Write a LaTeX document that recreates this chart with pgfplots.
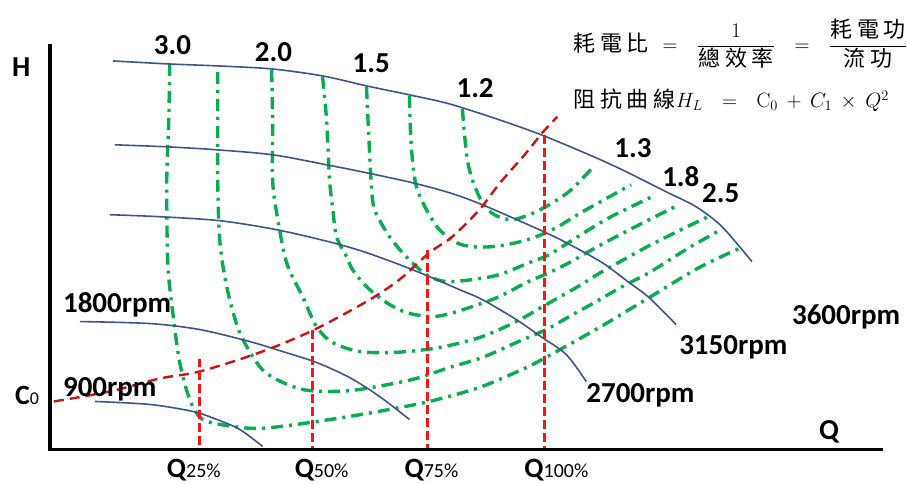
\documentclass[border=0pt]{standalone}
\usepackage{pgfplots}
\pgfplotsset{compat=1.18}
\usepackage[no-math]{fontspec}
\setmainfont{Carlito}
\newfontfamily\cjk[LetterSpace=22]{Noto Sans CJK TC}
\definecolor{pumpblue}{RGB}{62,84,140}
\definecolor{effgreen}{RGB}{10,172,80}
\definecolor{sysred}{RGB}{200,20,20}
\definecolor{qred}{RGB}{250,20,20}
\tikzset{
  eff/.style={effgreen, line width=3.4pt, smooth, tension=0.5,
    dash pattern=on 12pt off 6pt on 3pt off 6pt},
  pump/.style={pumpblue, line width=1.6pt, smooth, tension=0.5},
  qline/.style={qred, line width=3.4pt, dash pattern=on 9pt off 4pt},
  lbl/.style={font=\fontsize{29}{30}\selectfont\bfseries, anchor=base west, inner sep=0pt},
  txt/.style={anchor=base west, inner sep=0pt},
}
\newcommand\qlab[1]{{\fontsize{28}{30}\selectfont\bfseries Q}{\fontsize{20}{22}\selectfont #1\%}}
\newcommand\gap{\hspace{4pt}}

\begin{document}
\begin{tikzpicture}
\begin{axis}[
  width=907pt, height=485pt, scale only axis,
  xmin=0, xmax=907, ymin=0, ymax=485, y dir=reverse,
  axis line style={draw=none}, ticks=none, clip=false,
]
% iso lines of the power ratio, outer (3.0) to inner (1.2)
\addplot[eff] coordinates {(170,64)(169,120)(167,180)(168,263)(173,313)(180,363)(190,400)(203,420)(233,427)(260,429)(297,425)(350,417)(390,410)(430,402)(480,388)(525,369)(550,356)(600,328)(650,298)(700,268)(742,248)};
\addplot[eff] coordinates {(218,72)(218,130)(218,180)(220,240)(227,287)(240,333)(260,367)(277,380)(303,390)(330,392)(360,390)(413,380)(450,368)(483,358)(517,343)(547,330)(570,317)(597,302)(623,287)(650,273)(690,248)(722,230)};
\addplot[eff] coordinates {(272,70)(273,120)(273,180)(277,213)(287,263)(303,297)(317,327)(333,343)(360,352)(393,353)(427,350)(450,346)(483,337)(517,322)(547,305)(577,288)(603,272)(630,257)(650,246)(680,231)(711,216)};
\addplot[eff] coordinates {(323,77)(327,120)(330,180)(333,207)(337,237)(347,257)(353,270)(367,287)(387,303)(407,313)(430,317)(447,315)(473,307)(500,297)(527,283)(550,273)(570,263)(593,250)(617,237)(650,220)(678,206)};
\addplot[eff] coordinates {(367,87)(369,130)(373,200)(380,220)(390,237)(403,253)(417,267)(430,277)(447,282)(473,280)(500,275)(530,263)(550,255)(577,238)(610,218)(655,196)};
\addplot[eff] coordinates {(410,96)(411,130)(413,160)(417,187)(427,210)(440,230)(457,243)(473,247)(493,247)(517,243)(537,237)(557,228)(580,214)(605,200)(632,185)};
\addplot[eff] coordinates {(463,109)(465,133)(468,160)(473,180)(483,203)(495,215)(512,220)(530,215)(550,205)(572,190)(595,166)};
% pump curves
\addplot[pump] coordinates {(113,61)(168,64)(218,66)(272,69)(323,76)(367,86)(410,95)(450,104)(500,120)(542,135)(590,155)(623,170)(667,192)(697,207)(723,227)(753,262)};
\addplot[pump] coordinates {(115,145)(167,147)(217,150)(273,155)(327,165)(367,173)(413,183)(450,193)(483,205)(540,230)(567,243)(603,263)(630,283)(650,298)(677,325)};
\addplot[pump] coordinates {(110,215)(160,217)(220,221)(277,230)(333,243)(367,253)(400,265)(430,277)(460,290)(483,300)(517,320)(540,336)(567,355)(587,382)};
\addplot[pump] coordinates {(80,322)(150,324)(200,330)(250,342)(283,352)(317,363)(350,378)(380,397)(410,420)};
\addplot[pump] coordinates {(95,402)(150,405)(193,412)(217,420)(240,430)(263,447)};
% system resistance curve
\addplot[sysred, line width=2.4pt, smooth, tension=0.5, dash pattern=on 10pt off 6pt] coordinates {(54,402)(110,392)(160,379)(200,372)(260,353)(313,331)(367,302)(400,280)(430,253)(453,237)(480,210)(500,184)(527,153)(543,133)(558,117)};
% operating flows
\addplot[qline] coordinates {(200,359)(200,449)};
\addplot[qline] coordinates {(313,330)(313,449)};
\addplot[qline] coordinates {(428,250)(428,449)};
\addplot[qline] coordinates {(545,135)(545,449)};
% axes
\addplot[black, line width=3.5pt] coordinates {(50,44)(50,450)(884,450)};

\node[lbl] at (axis cs:12,77) {H};
\node[lbl] at (axis cs:820,440) {Q};
\node[txt] at (axis cs:15,405) {{\fontsize{28}{30}\selectfont\bfseries C}{\fontsize{18}{20}\selectfont 0}};
\node[txt] at (axis cs:167,478) {\qlab{25}};
\node[txt] at (axis cs:295,478) {\qlab{50}};
\node[txt] at (axis cs:405,478) {\qlab{75}};
\node[txt] at (axis cs:525,478) {\qlab{100}};
\node[lbl] at (axis cs:154,55) {3.0};
\node[lbl] at (axis cs:255,62) {2.0};
\node[lbl] at (axis cs:353,73) {1.5};
\node[lbl] at (axis cs:457,98) {1.2};
\node[lbl] at (axis cs:615,158) {1.3};
\node[lbl] at (axis cs:663,187) {1.8};
\node[lbl] at (axis cs:703,203) {2.5};
\node[lbl] at (axis cs:63,313) {1800rpm};
\node[lbl] at (axis cs:63,397) {900rpm};
\node[lbl] at (axis cs:587,403) {2700rpm};
\node[lbl] at (axis cs:680,355) {3150rpm};
\node[lbl] at (axis cs:793,325) {3600rpm};
\node[anchor=west, inner sep=0pt] at (axis cs:574,44) {\fontsize{22}{26}\selectfont\cjk 耗電比\ \gap$=\ \gap\displaystyle\frac{1}{\mbox{\cjk 總效率}}\ \gap=\ \gap\frac{\mbox{\cjk 耗電功}}{\mbox{\cjk 流功}}$};
\node[txt] at (axis cs:574,108) {\fontsize{22}{26}\selectfont\cjk 阻抗曲線$H_L\ \gap=\ \gap\mathrm{C}_0\gap+\gap C_1\gap\times\gap Q^2$};
\end{axis}
\end{tikzpicture}
\end{document}
